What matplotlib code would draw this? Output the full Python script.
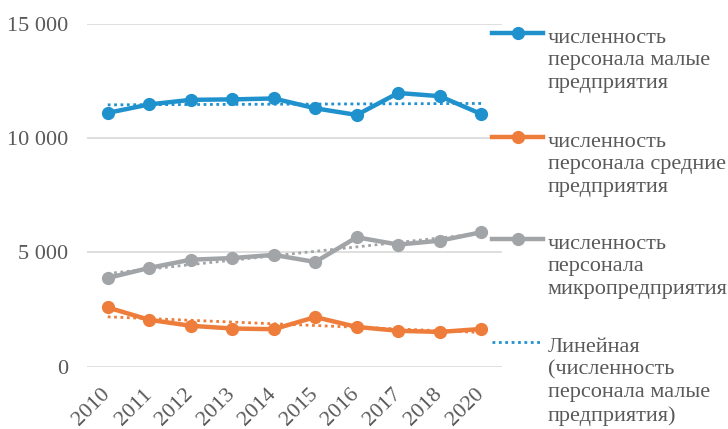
import matplotlib
matplotlib.use("Agg")
import matplotlib.pyplot as plt
import numpy as np
from matplotlib.lines import Line2D

years = ["2010", "2011", "2012", "2013", "2014", "2015", "2016", "2017", "2018", "2020"]
small = [11100, 11470, 11670, 11690, 11730, 11300, 11010, 11970, 11830, 11050]
medium = [2590, 2050, 1790, 1670, 1640, 2170, 1740, 1570, 1520, 1650]
micro = [3880, 4320, 4680, 4750, 4890, 4580, 5660, 5340, 5510, 5880]

labels = ["численность\nперсонала малые\nпредприятия",
          "численность\nперсонала средние\nпредприятия",
          "численность\nперсонала\nмикропредприятия",
          "Линейная\n(численность\nперсонала малые\nпредприятия)"]
yticks = [0, 5000, 10000, 15000]
ytick_labels = ["0", "5 000", "10 000", "15 000"]

c_blue = "#1F92CE"
c_orange = "#EE7D3B"
c_gray = "#A2A5A7"
txt = "#595959"

plt.rcParams['font.family'] = ['Liberation Serif', 'DejaVu Serif']

W, H = 728, 429
fig = plt.figure(figsize=(W / 100, H / 100), dpi=100)
ax = fig.add_axes([87 / W, 1 - 366.7 / H, 415 / W, 343 / H])

x = np.arange(len(years))
for vals, col in [(small, c_blue), (medium, c_orange), (micro, c_gray)]:
    k, b = np.polyfit(x, vals, 1)
    ax.plot(x, k * x + b, linestyle=(0, (1, 1.3)), color=col, lw=2.0, zorder=2)
for vals, col in [(small, c_blue), (medium, c_orange), (micro, c_gray)]:
    ax.plot(x, vals, color=col, lw=3.2, marker='o', markersize=8.5,
            zorder=3, clip_on=False)

ax.set_xlim(-0.5, len(years) - 0.5)
ax.set_ylim(0, 15000)
ax.set_yticks(yticks)
ax.set_yticklabels(ytick_labels)
ax.set_xticks(x)
ax.set_xticklabels(years, rotation=45, ha='right', rotation_mode='anchor')
ax.grid(axis='y', color='#D9D9D9', lw=1.2)
ax.set_axisbelow(True)
for s in ax.spines.values():
    s.set_visible(False)
ax.tick_params(axis='both', length=0, labelsize=16, labelcolor=txt)
ax.tick_params(axis='y', pad=13.5)
ax.tick_params(axis='x', pad=18)
for lab in ax.get_xticklabels():
    lab.set_va('center')

# legend (drawn manually so the handles align with the first text line)
entries = [(c_blue, '-'), (c_orange, '-'), (c_gray, '-'), (c_blue, ':')]
ys = [33, 137, 239, 342]
for (col, ls), yy, lab in zip(entries, ys, labels):
    yf = 1 - yy / H
    if ls == '-':
        fig.add_artist(Line2D([492 / W, 543 / W], [yf, yf], color=col, lw=3.2,
                              transform=fig.transFigure))
        fig.add_artist(Line2D([517.5 / W], [yf], color=col, marker='o',
                              markersize=8.5, transform=fig.transFigure))
    else:
        fig.add_artist(Line2D([492 / W, 543 / W], [yf, yf], color=col, lw=2.0,
                              linestyle=(0, (1, 1.3)), transform=fig.transFigure))
    fig.text(548 / W, 1 - (yy - 4) / H, lab, fontsize=16, color=txt,
             va='top', ha='left', linespacing=1.25)

fig.savefig("out.png", dpi=100)
